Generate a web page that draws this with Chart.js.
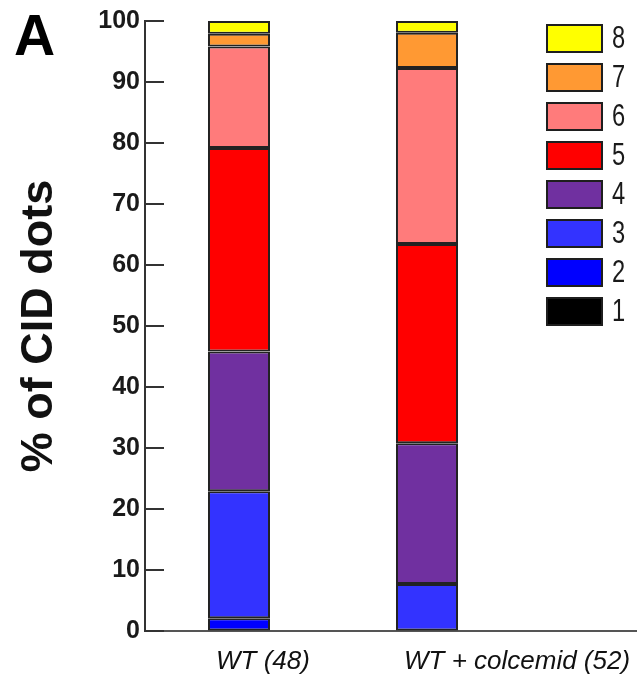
<!DOCTYPE html>
<html>
<head>
<meta charset="utf-8">
<script src="https://cdn.jsdelivr.net/npm/chart.js@4"></script>
<style>
  html, body { margin: 0; padding: 0; background: #fff; }
  #wrap { width: 637px; height: 677px; }
</style>
</head>
<body>
<div id="wrap"><canvas id="grafico" width="637" height="677"></canvas></div>
<script>
// grupos no eixo x
var grupos = ["WT (48)", "WT + colcemid (52)"];

// classes (nº de pontos CID) e cores
var classes = ["1", "2", "3", "4", "5", "6", "7", "8"];
var cores = ["#000000", "#0000ff", "#3333ff", "#7030a0", "#ff0000", "#ff7b7b", "#ff9933", "#ffff00"];

// % de células por classe: [WT, WT + colcemid]
var classe1 = [0, 0];
var classe2 = [2.08, 0];
var classe3 = [20.83, 7.69];
var classe4 = [22.92, 23.08];
var classe5 = [33.33, 32.69];
var classe6 = [16.67, 28.85];
var classe7 = [2.08, 5.77];
var classe8 = [2.08, 1.92];

var ticksY = [0, 10, 20, 30, 40, 50, 60, 70, 80, 90, 100];

var valores = [classe1, classe2, classe3, classe4, classe5, classe6, classe7, classe8];

var datasets = classes.map(function(c, i) {
  return {
    label: c,
    data: valores[i],
    backgroundColor: cores[i],
    borderColor: "#222",
    borderWidth: 2,
    borderSkipped: false,
    categoryPercentage: 1,
    barPercentage: 0.33
  };
});

// ticks internos, eixo x até a borda, letra "A" e legenda
var extras = {
  id: "extras",
  afterDraw: function(chart) {
    var ctx = chart.ctx;
    var area = chart.chartArea;
    var sy = chart.scales.y;
    var sx = chart.scales.x;
    ctx.save();

    ctx.strokeStyle = "#333";
    ctx.lineWidth = 2;
    ticksY.forEach(function(v) {
      var py = Math.round(sy.getPixelForValue(v));
      ctx.beginPath();
      ctx.moveTo(area.left, py);
      ctx.lineTo(area.left + 19, py);
      ctx.stroke();
    });

    // eixo x continua até a borda direita
    var yEixo = Math.round(sx.top);
    ctx.strokeStyle = "#555";
    ctx.beginPath();
    ctx.moveTo(area.right - 4, yEixo);
    ctx.lineTo(chart.width, yEixo);
    ctx.stroke();

    ctx.fillStyle = "#000";
    ctx.font = "bold 57px Arial, 'Liberation Sans', sans-serif";
    ctx.textAlign = "left";
    ctx.textBaseline = "alphabetic";
    ctx.fillText("A", 14, 55);

    // legenda, 8 no topo (texto estreito)
    ctx.font = "32px Arial, 'Liberation Sans', sans-serif";
    ctx.textBaseline = "middle";
    for (var i = classes.length - 1; i >= 0; i--) {
      var by = 25 + (classes.length - 1 - i) * 39;
      ctx.fillStyle = cores[i];
      ctx.fillRect(547, by, 55, 27);
      ctx.strokeStyle = "#1e1e1e";
      ctx.lineWidth = 2;
      ctx.strokeRect(547, by, 55, 27);
      ctx.fillStyle = "#1a1a1a";
      ctx.save();
      ctx.translate(612, by + 14);
      ctx.scale(0.74, 1);
      ctx.fillText(classes[i], 0, 0);
      ctx.restore();
    }
    ctx.restore();
  }
};

function iniciar() {
  var ctx = document.getElementById("grafico").getContext("2d");
  new Chart(ctx, {
    type: "bar",
    data: { labels: grupos, datasets: datasets },
    plugins: [extras],
    options: {
      responsive: false,
      animation: false,
      devicePixelRatio: 1,
      layout: { padding: { top: 21, right: 116, bottom: 0, left: 0 } },
      plugins: {
        legend: { display: false },
        tooltip: { enabled: false }
      },
      scales: {
        x: {
          stacked: true,
          grid: { display: false },
          border: { color: "#555", width: 2 },
          ticks: {
            color: "#111",
            align: "start",
            labelOffset: -23,
            padding: 7,
            autoSkip: false,
            maxRotation: 0,
            minRotation: 0,
            font: { family: "Arial, 'Liberation Sans', sans-serif", size: 26, style: "italic" }
          },
          afterFit: function(s) {
            s.height = 46;
            s.paddingLeft = 0;
            s.paddingRight = 0;
          }
        },
        y: {
          stacked: true,
          min: 0,
          max: 100,
          afterBuildTicks: function(s) {
            s.ticks = ticksY.map(function(v) { return { value: v }; });
          },
          grid: { drawOnChartArea: false, drawTicks: false },
          border: { color: "#333", width: 2 },
          ticks: {
            color: "#1a1a1a",
            padding: 5,
            font: { family: "Arial, 'Liberation Sans', sans-serif", size: 25, weight: "bold" }
          },
          title: {
            display: true,
            text: "% of CID dots",
            color: "#111",
            padding: { top: 13, bottom: 0 },
            font: { family: "Arial, 'Liberation Sans', sans-serif", size: 45, weight: "bold" }
          },
          afterFit: function(s) { s.width = 145; }
        }
      }
    }
  });
}

window.onload = iniciar;
</script>
</body>
</html>
